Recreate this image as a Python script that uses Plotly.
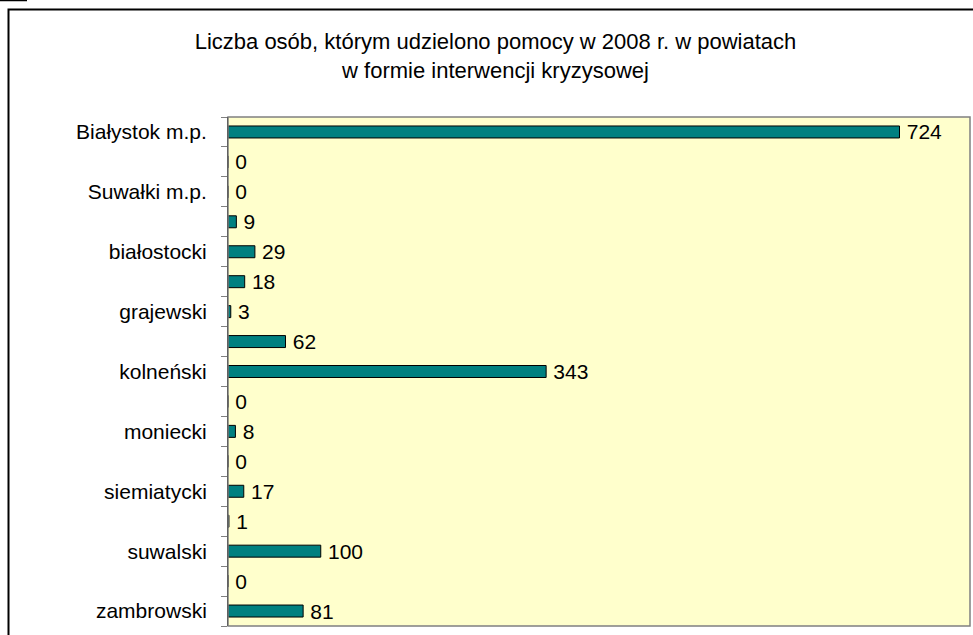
import plotly.graph_objects as go

categories = [
    "Białystok m.p.", "Łomża m.p.", "Suwałki m.p.", "augustowski", "białostocki",
    "bielski", "grajewski", "hajnowski", "kolneński", "łomżyński", "moniecki",
    "sejneński", "siemiatycki", "sokólski", "suwalski", "wysokomazowiecki", "zambrowski",
]
values = [724, 0, 0, 9, 29, 18, 3, 62, 343, 0, 8, 0, 17, 1, 100, 0, 81]
title_lines = [
    "Liczba osób, którym udzielono pomocy w 2008 r. w powiatach",
    "w formie interwencji kryzysowej",
]

W, H = 973, 635
L, R, T, B = 228, 3, 117, 9
pw, ph = W - L - R, H - T - B

def px_x(px):
    return (px - L) / pw

def px_y(py):
    return (H - B - py) / ph

positions = list(range(len(categories)))
shown = positions[::2]

fig = go.Figure(go.Bar(
    x=values,
    y=positions,
    orientation="h",
    width=0.4,
    marker=dict(color="#008080", line=dict(color="#000000", width=1)),
    text=["\u2009" + str(v) for v in values],
    textposition="outside",
    constraintext="none",
    textfont=dict(family="Arial, Liberation Sans, sans-serif", size=21, color="#000000"),
    cliponaxis=False,
    hoverinfo="x+y",
))

fig.update_layout(
    width=W, height=H,
    margin=dict(l=L, r=R, t=T, b=B, pad=0),
    paper_bgcolor="#FFFFFF",
    plot_bgcolor="#FFFFCC",
    font=dict(family="Arial, Liberation Sans, sans-serif", size=21, color="#000000"),
    showlegend=False,
    title=dict(
        text="<br>".join(title_lines),
        x=495.5 / W, xanchor="center", xref="container",
        y=1 - 49 / H, yanchor="middle", yref="container",
        font=dict(size=22, color="#000000"),
    ),
    xaxis=dict(range=[0, 800], showticklabels=False, showgrid=False, zeroline=False,
               ticks="", showline=False, fixedrange=True),
    yaxis=dict(
        range=[len(categories) - 0.5, -0.5],
        tickmode="array",
        tickvals=shown,
        ticktext=[categories[i] for i in shown],
        ticks="",
        ticklabelstandoff=16,
        showgrid=False, zeroline=False,
        showline=True, linecolor="#000000", linewidth=1,
        minor=dict(tickmode="array",
                   tickvals=[p - 0.5 for p in positions] + [positions[-1] + 0.5],
                   ticks="outside", ticklen=6, tickcolor="#808080", tickwidth=1,
                   showgrid=False),
        fixedrange=True,
    ),
    shapes=[
        dict(type="rect", xref="paper", yref="paper", x0=0, x1=1, y0=0, y1=1,
             line=dict(color="#808080", width=1.5), layer="above"),
        dict(type="rect", xref="paper", yref="paper",
             x0=px_x(8.5), x1=px_x(990), y0=px_y(650), y1=px_y(9.5),
             line=dict(color="#000000", width=2), fillcolor="rgba(0,0,0,0)", layer="below"),
        dict(type="line", xref="paper", yref="paper",
             x0=px_x(0), x1=px_x(27), y0=px_y(0.5), y1=px_y(0.5),
             line=dict(color="#000000", width=1.5)),
    ],
)

fig.write_html(
    "out.html",
    config={"displayModeBar": False},
    post_script="document.body.style.margin='0';document.body.style.padding='0';",
)
